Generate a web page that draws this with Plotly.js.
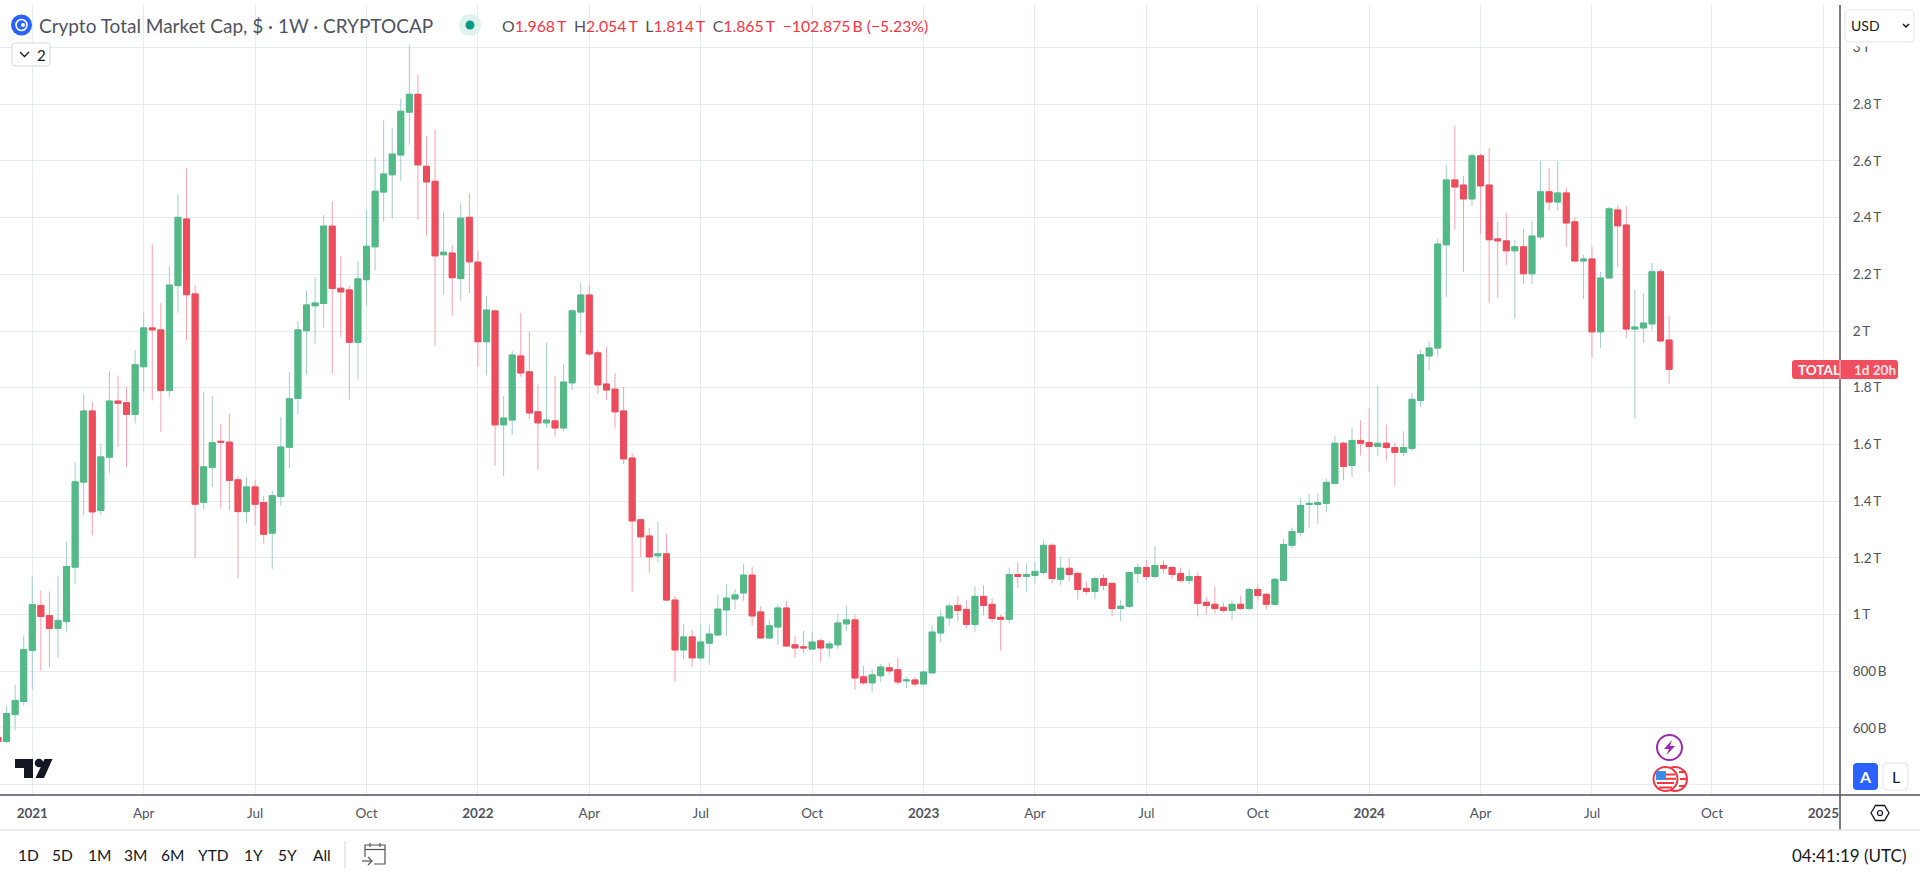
<!DOCTYPE html>
<html>
<head>
<meta charset="utf-8">
<title>Crypto Total Market Cap</title>
<script src="https://cdn.plot.ly/plotly-3.0.1.min.js"></script>
<style>
html, body { margin: 0; padding: 0; background: #fff; overflow: hidden; }
#chart { width: 1920px; height: 878px; }
</style>
</head>
<body>
<div id="chart"></div>
<script>
// weekly bars, values in trillions of USD
var weeks = [
  '2020-12-07','2020-12-14','2020-12-21','2020-12-28',
  '2021-01-04','2021-01-11','2021-01-18','2021-01-25','2021-02-01','2021-02-08','2021-02-15','2021-02-22','2021-03-01','2021-03-08','2021-03-15','2021-03-22','2021-03-29',
  '2021-04-05','2021-04-12','2021-04-19','2021-04-26','2021-05-03','2021-05-10','2021-05-17','2021-05-24','2021-05-31','2021-06-07','2021-06-14','2021-06-21','2021-06-28',
  '2021-07-05','2021-07-12','2021-07-19','2021-07-26','2021-08-02','2021-08-09','2021-08-16','2021-08-23','2021-08-30','2021-09-06','2021-09-13','2021-09-20','2021-09-27',
  '2021-10-04','2021-10-11','2021-10-18','2021-10-25','2021-11-01','2021-11-08','2021-11-15','2021-11-22','2021-11-29','2021-12-06','2021-12-13','2021-12-20','2021-12-27',
  '2022-01-03','2022-01-10','2022-01-17','2022-01-24','2022-01-31','2022-02-07','2022-02-14','2022-02-21','2022-02-28','2022-03-07','2022-03-14','2022-03-21','2022-03-28',
  '2022-04-04','2022-04-11','2022-04-18','2022-04-25','2022-05-02','2022-05-09','2022-05-16','2022-05-23','2022-05-30','2022-06-06','2022-06-13','2022-06-20','2022-06-27',
  '2022-07-04','2022-07-11','2022-07-18','2022-07-25','2022-08-01','2022-08-08','2022-08-15','2022-08-22','2022-08-29','2022-09-05','2022-09-12','2022-09-19','2022-09-26',
  '2022-10-03','2022-10-10','2022-10-17','2022-10-24','2022-10-31','2022-11-07','2022-11-14','2022-11-21','2022-11-28','2022-12-05','2022-12-12','2022-12-19','2022-12-26',
  '2023-01-02','2023-01-09','2023-01-16','2023-01-23','2023-01-30','2023-02-06','2023-02-13','2023-02-20','2023-02-27','2023-03-06','2023-03-13','2023-03-20','2023-03-27',
  '2023-04-03','2023-04-10','2023-04-17','2023-04-24','2023-05-01','2023-05-08','2023-05-15','2023-05-22','2023-05-29','2023-06-05','2023-06-12','2023-06-19','2023-06-26',
  '2023-07-03','2023-07-10','2023-07-17','2023-07-24','2023-07-31','2023-08-07','2023-08-14','2023-08-21','2023-08-28','2023-09-04','2023-09-11','2023-09-18','2023-09-25',
  '2023-10-02','2023-10-09','2023-10-16','2023-10-23','2023-10-30','2023-11-06','2023-11-13','2023-11-20','2023-11-27','2023-12-04','2023-12-11','2023-12-18','2023-12-25',
  '2024-01-01','2024-01-08','2024-01-15','2024-01-22','2024-01-29','2024-02-05','2024-02-12','2024-02-19','2024-02-26','2024-03-04','2024-03-11','2024-03-18','2024-03-25',
  '2024-04-01','2024-04-08','2024-04-15','2024-04-22','2024-04-29','2024-05-06','2024-05-13','2024-05-20','2024-05-27','2024-06-03','2024-06-10','2024-06-17','2024-06-24',
  '2024-07-01','2024-07-08','2024-07-15','2024-07-22','2024-07-29','2024-08-05','2024-08-12','2024-08-19','2024-08-26','2024-09-02'
];

var opens = [
  .566,.552,.647,.693,
  .873,1.032,.996,.951,.975,1.167,1.467,1.718,1.367,1.555,1.753,1.747,1.706,
  1.874,2.011,2.004,1.790,2.160,2.395,2.131,1.396,1.519,1.611,1.608,1.475,1.363,
  1.450,1.395,1.287,1.416,1.590,1.762,2.001,2.089,2.097,2.370,2.151,2.145,1.960,
  2.181,2.297,2.490,2.551,2.621,2.772,2.835,2.581,2.528,2.269,2.275,2.185,2.401,
  2.243,1.962,2.071,1.669,1.686,1.912,1.856,1.715,1.676,1.683,1.658,1.817,2.067,
  2.127,1.923,1.813,1.795,1.718,1.552,1.334,1.277,1.207,1.214,1.051,.875,.921,
  .847,.899,.928,1.016,1.055,1.076,1.139,1.009,.917,.956,1.023,.893,.886,
  .878,.907,.882,.893,.967,.981,.780,.759,.784,.812,.805,.766,.769,
  .755,.794,.935,.988,1.032,1.018,.965,1.064,1.036,.990,.983,1.141,1.134,
  1.138,1.148,1.244,1.124,1.163,1.145,1.092,1.081,1.127,1.110,1.021,1.029,1.145,
  1.166,1.134,1.173,1.166,1.145,1.120,1.134,1.043,1.036,1.025,1.014,1.036,1.021,
  1.088,1.071,1.036,1.120,1.244,1.290,1.388,1.388,1.392,1.462,1.604,1.526,1.614,
  1.607,1.593,1.604,1.589,1.572,1.586,1.755,1.912,1.940,2.304,2.533,2.515,2.466,
  2.618,2.515,2.325,2.318,2.283,2.297,2.202,2.332,2.491,2.455,2.487,2.385,2.247,
  2.254,1.997,2.187,2.427,2.374,2.007,2.011,2.025,2.209,1.968
];

var highs = [
  .585,.679,.753,.926,
  1.134,1.085,1.081,1.137,1.257,1.538,1.777,1.750,1.601,1.859,1.843,1.803,1.933,
  2.064,2.306,2.098,2.229,2.482,2.576,2.162,1.787,1.771,1.673,1.708,1.488,1.485,
  1.475,1.419,1.436,1.697,1.855,2.035,2.141,2.190,2.409,2.457,2.264,2.159,2.247,
  2.426,2.613,2.743,2.718,2.820,3.008,2.904,2.687,2.712,2.419,2.303,2.451,2.486,
  2.285,2.124,2.075,1.771,1.930,2.064,1.997,1.810,1.958,1.842,1.884,2.078,2.169,
  2.162,1.933,1.944,1.852,1.803,1.570,1.337,1.305,1.327,1.284,1.065,.967,.945,
  .963,.963,1.069,1.108,1.090,1.178,1.168,1.030,.981,1.034,1.048,.924,.942,
  .938,.914,.907,1.002,1.030,.998,.819,.808,.826,.829,.847,.780,.780,
  .801,.963,1.016,1.041,1.064,1.050,1.099,1.103,1.057,1.000,1.166,1.184,1.180,
  1.187,1.261,1.251,1.205,1.198,1.152,1.117,1.134,1.141,1.112,1.050,1.150,1.180,
  1.191,1.240,1.191,1.170,1.166,1.159,1.148,1.060,1.099,1.043,1.050,1.067,1.095,
  1.106,1.075,1.131,1.268,1.307,1.410,1.427,1.427,1.480,1.632,1.611,1.657,1.685,
  1.727,1.808,1.670,1.607,1.646,1.780,1.933,1.965,2.325,2.586,2.724,2.547,2.628,
  2.625,2.646,2.385,2.417,2.322,2.360,2.389,2.600,2.575,2.600,2.505,2.402,2.269,
  2.297,2.209,2.438,2.445,2.441,2.145,2.131,2.240,2.219,2.054
];

var lows = [
  .535,.545,.591,.679,
  .735,.802,.813,.848,.940,1.107,1.350,1.279,1.350,1.498,1.591,1.519,1.674,
  1.784,1.755,1.645,1.766,2.064,1.966,1.199,1.371,1.450,1.375,1.367,1.128,1.322,
  1.314,1.251,1.160,1.385,1.516,1.706,1.847,1.956,2.013,1.850,1.979,1.759,1.829,
  2.089,2.213,2.385,2.396,2.530,2.657,2.392,2.336,1.948,2.128,2.054,2.107,2.134,
  1.874,1.845,1.524,1.489,1.633,1.838,1.690,1.510,1.658,1.627,1.647,1.792,1.990,
  1.912,1.778,1.757,1.658,1.531,1.080,1.203,1.147,1.185,1.048,.762,.843,.815,
  .836,.822,.926,.924,1.019,1.048,.960,.916,.916,.893,.886,.847,.864,
  .876,.833,.850,.878,.942,.734,.752,.727,.762,.787,.752,.741,.745,
  .754,.793,.903,.960,.976,.951,.937,.997,.972,.873,.969,1.095,1.081,
  1.110,1.141,1.110,1.103,1.117,1.053,1.071,1.053,1.085,.993,.976,1.021,1.110,
  1.120,1.127,1.145,1.124,1.113,1.106,.993,1.000,1.004,1.007,.979,1.018,1.014,
  1.050,1.018,1.035,1.119,1.233,1.275,1.307,1.321,1.360,1.459,1.473,1.484,1.561,
  1.501,1.558,1.544,1.455,1.558,1.575,1.732,1.863,1.909,2.120,2.357,2.209,2.441,
  2.343,2.099,2.117,2.233,2.043,2.166,2.166,2.322,2.424,2.424,2.297,2.244,2.113,
  1.905,1.940,2.184,2.226,1.975,1.690,1.958,2.004,1.962,1.814
];

var closes = [
  .552,.651,.697,.876,
  1.035,.993,.951,.979,1.169,1.468,1.718,1.362,1.556,1.753,1.745,1.706,1.881,
  2.011,2.004,1.790,2.162,2.401,2.128,1.389,1.521,1.606,1.608,1.473,1.363,1.450,
  1.389,1.283,1.419,1.591,1.761,2.004,2.092,2.099,2.370,2.150,2.138,1.960,2.184,
  2.299,2.493,2.554,2.624,2.775,2.835,2.586,2.526,2.265,2.278,2.188,2.398,2.244,
  1.962,2.074,1.669,1.693,1.915,1.852,1.711,1.676,1.686,1.658,1.820,2.071,2.127,
  1.919,1.810,1.792,1.715,1.549,1.330,1.274,1.203,1.214,1.051,.875,.921,.847,
  .903,.931,1.019,1.058,1.069,1.139,.995,.917,.960,1.023,.889,.882,.882,
  .903,.882,.896,.970,.981,.776,.759,.787,.815,.801,.762,.769,.755,
  .797,.938,.991,1.030,1.014,.965,1.064,1.032,.986,.983,1.141,1.134,1.141,
  1.152,1.244,1.127,1.163,1.141,1.088,1.081,1.127,1.103,1.021,1.029,1.148,1.166,
  1.134,1.173,1.163,1.141,1.120,1.134,1.039,1.032,1.021,1.014,1.036,1.021,1.088,
  1.067,1.036,1.124,1.247,1.293,1.385,1.392,1.395,1.466,1.604,1.522,1.614,1.604,
  1.593,1.604,1.589,1.572,1.589,1.759,1.916,1.940,2.307,2.533,2.508,2.466,2.618,
  2.512,2.322,2.318,2.283,2.297,2.202,2.335,2.491,2.455,2.487,2.381,2.247,2.254,
  1.997,2.187,2.431,2.371,2.007,2.014,2.028,2.209,1.965,1.865
];

var xTicks = ['2021-01-04','2021-04-05','2021-07-05','2021-10-04','2022-01-03','2022-04-04','2022-07-04','2022-10-03','2023-01-02','2023-04-03','2023-07-03','2023-10-02','2024-01-01','2024-04-01','2024-07-01','2024-10-07','2025-01-06'];
var xLabels = ['<b>2021</b>','Apr','Jul','Oct','<b>2022</b>','Apr','Jul','Oct','<b>2023</b>','Apr','Jul','Oct','<b>2024</b>','Apr','Jul','Oct','<b>2025</b>'];
var yTicks = [3, 2.8, 2.6, 2.4, 2.2, 2, 1.8, 1.6, 1.4, 1.2, 1, .8, .6, .4];
var yLabels = ['3\u2009T','2.8\u2009T','2.6\u2009T','2.4\u2009T','2.2\u2009T','2\u2009T','1.8\u2009T','1.6\u2009T','1.4\u2009T','1.2\u2009T','1\u2009T','800\u2009B','600\u2009B',''];
var rangeButtons = ['1D','5D','1M','3M','6M','YTD','1Y','5Y','All'];
var rangeButtonX = [28, 63, 99, 135, 172, 213, 253, 287, 322];

var FONT = 'Lato, "Noto Sans", sans-serif';
var TEXT = '#50535E';
var UP = '#53B987', DOWN = '#EB4D5C';
var UP_WICK = '#A3CCCC', DOWN_WICK = '#F7A1AC';
var GRID = '#E2ECF2';
var DAY = 86400000;

// bodies go on their own trace so that they can be coloured apart from the wicks
var bodyHigh = [], bodyLow = [];
for (var i = 0; i < weeks.length; i++) {
  bodyHigh.push(Math.max(opens[i], closes[i]));
  bodyLow.push(Math.min(opens[i], closes[i]));
}

var wicks = {
  type: 'candlestick',
  x: weeks, open: opens, high: highs, low: lows, close: closes,
  width: DAY,
  increasing: {line: {color: UP_WICK, width: 1}, fillcolor: UP_WICK},
  decreasing: {line: {color: DOWN_WICK, width: 1}, fillcolor: DOWN_WICK},
  hoverinfo: 'skip',
  showlegend: false
};

var bodies = {
  type: 'candlestick',
  x: weeks, open: opens, high: bodyHigh, low: bodyLow, close: closes,
  width: 4.9 * DAY,
  increasing: {line: {color: UP, width: 1}, fillcolor: UP},
  decreasing: {line: {color: DOWN, width: 1}, fillcolor: DOWN},
  hoverinfo: 'skip',
  showlegend: false
};

// screen pixels to paper coords, the plot area is 1840x790 at (0,5)
function fx(px) { return px / 1840; }
function fy(py) { return 1 - (py - 5) / 790; }

var shapes = [];
var notes = [];

function rect(x0, y0, x1, y1, fill, line, lineWidth) {
  shapes.push({type: 'rect', xref: 'paper', yref: 'paper', x0: fx(x0), y0: fy(y0), x1: fx(x1), y1: fy(y1),
    fillcolor: fill || 'rgba(0,0,0,0)', line: {color: line || 'rgba(0,0,0,0)', width: line ? (lineWidth || 1) : 0}, layer: 'above'});
}
function circle(cx, cy, r, fill, line, lineWidth) {
  shapes.push({type: 'circle', xref: 'paper', yref: 'paper', x0: fx(cx - r), y0: fy(cy - r), x1: fx(cx + r), y1: fy(cy + r),
    fillcolor: fill || 'rgba(0,0,0,0)', line: {color: line || 'rgba(0,0,0,0)', width: line ? (lineWidth || 1) : 0}, layer: 'above'});
}
function path(points, closed, fill, line, lineWidth) {
  var d = '';
  for (var i = 0; i < points.length; i++) {
    d += (i ? 'L' : 'M') + fx(points[i][0]) + ',' + fy(points[i][1]);
  }
  if (closed) d += 'Z';
  shapes.push({type: 'path', xref: 'paper', yref: 'paper', path: d,
    fillcolor: fill || 'rgba(0,0,0,0)', line: {color: line || 'rgba(0,0,0,0)', width: line ? (lineWidth || 1) : 0}, layer: 'above'});
}
function roundRect(x0, y0, x1, y1, r, fill, line) {
  var X0 = fx(x0), X1 = fx(x1), Y0 = fy(y0), Y1 = fy(y1), A = fx(x0 + r), B = fx(x1 - r), C = fy(y0 + r), D = fy(y1 - r);
  var d = 'M' + A + ',' + Y0 + 'L' + B + ',' + Y0 + 'Q' + X1 + ',' + Y0 + ' ' + X1 + ',' + C +
    'L' + X1 + ',' + D + 'Q' + X1 + ',' + Y1 + ' ' + B + ',' + Y1 + 'L' + A + ',' + Y1 +
    'Q' + X0 + ',' + Y1 + ' ' + X0 + ',' + D + 'L' + X0 + ',' + C + 'Q' + X0 + ',' + Y0 + ' ' + A + ',' + Y0 + 'Z';
  shapes.push({type: 'path', xref: 'paper', yref: 'paper', path: d,
    fillcolor: fill || '#fff', line: {color: line || 'rgba(0,0,0,0)', width: line ? 1 : 0}, layer: 'above'});
}
function note(text, px, py, size, color, anchor) {
  notes.push({text: text, xref: 'paper', yref: 'paper', x: fx(px), y: fy(py), showarrow: false,
    xanchor: anchor || 'left', yanchor: 'middle', borderpad: 0,
    font: {family: FONT, size: size, color: color}});
}

// axis frame
rect(0, 795, 1920, 795, null, '#50535E', 1);
rect(1840, 5, 1840, 830, null, '#50535E', 1);
rect(0, 830, 1920, 830, null, '#E0E3EB', 1);

// header
circle(21.5, 25, 10.5, '#2962FF');
circle(21.5, 25, 5.5, null, '#fff', 1.6);
circle(23, 25, 2, '#fff');
note('Crypto Total Market Cap, $ \u00b7 1W \u00b7 CRYPTOCAP', 38, 25, 19, TEXT);
circle(470, 25, 11, '#DFF2EE');
circle(470, 25, 4.5, '#089981');
var red = function (s) { return '<span style="color:#F23645">' + s + '</span>'; };
note('O' + red('1.968\u2009T') + '  H' + red('2.054\u2009T') + '  L' + red('1.814\u2009T') + '  C' + red('1.865\u2009T') + '  ' + red('\u2212102.875\u2009B (\u22125.23%)'), 501, 25, 15.8, TEXT);

// collapsed indicators button
roundRect(12, 43, 50, 66, 3, '#fff', '#D6D8E0');
path([[20, 52], [24.5, 56.5], [29, 52]], false, null, '#131722', 1.3);
note('2', 36, 54.5, 15, '#131722');

// currency button, its margin hides the top half of the "3 T" label
rect(1841, 5, 1920, 46.5, '#fff');
roundRect(1845, 10, 1914, 42, 5, '#fff', '#E0E3EB');
note('USD', 1850, 25, 14, '#131722');
path([[1903, 24], [1906, 27], [1909, 24]], false, null, '#131722', 1.5);

// last price label
roundRect(1792, 360, 1898, 379, 3, '#EF4F5E');
rect(1840, 360, 1840, 379, null, '#F7A1AC', 1);
note('<b>TOTAL</b>', 1797, 369.5, 13.5, '#fff');
note('<b>1d 20h</b>', 1853, 369.5, 13.5, '#FCE4E7');

// auto / log buttons
roundRect(1853, 763, 1878, 790, 4, '#2962FF');
note('<b>A</b>', 1865.5, 776.5, 16, '#fff', 'center');
roundRect(1883, 763, 1908, 790, 4, '#fff', '#E0E3EB');
note('L', 1895.5, 776.5, 16, '#131722', 'center');

// settings hexagon
path([[1871, 813], [1875.5, 805.5], [1884.5, 805.5], [1889, 813], [1884.5, 820.5], [1875.5, 820.5]], true, null, '#131722', 1.3);
circle(1880, 813, 2.5, null, '#131722', 1.2);

// logo
path([[15, 759], [33, 759], [33, 778], [24, 778], [24, 768], [15, 768]], true, '#131722');
circle(39, 763, 4.3, '#131722');
path([[44.5, 759], [52.5, 759], [44, 778], [35.5, 778]], true, '#131722');

// events on the time scale
circle(1669.5, 747.5, 12.5, '#fff', '#9C27B0', 2);
path([[1672, 740], [1664, 749], [1669, 749], [1666.5, 755], [1675, 746], [1670, 746]], true, '#9C27B0');
circle(1675, 779, 12, '#fff', '#F23645', 2);
path([[1679, 772], [1686, 772]], false, null, '#F23645', 2);
path([[1680, 779], [1687, 779]], false, null, '#F23645', 2);
path([[1679, 786], [1686, 786]], false, null, '#F23645', 2);
circle(1665.5, 779, 12, '#fff', '#F23645', 2);
path([[1657, 783], [1674, 783]], false, null, '#F23645', 2);
path([[1659, 787.5], [1672, 787.5]], false, null, '#F23645', 2);
path([[1666, 774.5], [1675, 774.5]], false, null, '#F23645', 2);
path([[1666, 778.8], [1676, 778.8]], false, null, '#F23645', 2);
rect(1656, 771, 1666, 780, '#3D8CE8');

// range bar
for (var b = 0; b < rangeButtons.length; b++) {
  note(rangeButtons[b], rangeButtonX[b], 855, 15.5, '#131722', 'center');
}
rect(345, 841, 345, 868, null, '#E0E3EB', 1);
// calendar icon
path([[365, 857], [365, 845], [385, 845], [385, 864], [374, 864]], false, null, '#50535E', 1.2);
path([[365, 849.5], [385, 849.5]], false, null, '#50535E', 1.2);
path([[370, 843], [370, 847]], false, null, '#50535E', 1.2);
path([[380, 843], [380, 847]], false, null, '#50535E', 1.2);
path([[362, 861], [372, 861]], false, null, '#50535E', 1.2);
path([[368, 857], [372, 861], [368, 865]], false, null, '#50535E', 1.2);
note('04:41:19 (UTC)', 1907, 855, 17, '#131722', 'right');

var layout = {
  width: 1920,
  height: 878,
  margin: {l: 0, r: 80, t: 5, b: 83, pad: 0},
  paper_bgcolor: '#fff',
  plot_bgcolor: '#fff',
  showlegend: false,
  hovermode: false,
  boxgap: 0,
  boxmode: 'overlay',
  font: {family: FONT, size: 13, color: TEXT},
  xaxis: {
    type: 'date',
    range: ['2020-12-08 15:00', '2025-01-19 14:00'],
    tickmode: 'array',
    tickvals: xTicks,
    ticktext: xLabels,
    tickangle: 0,
    ticks: 'outside',
    ticklen: 6,
    tickcolor: 'rgba(0,0,0,0)',
    tickfont: {family: FONT, size: 13.5, color: TEXT},
    showgrid: true,
    gridcolor: GRID,
    gridwidth: 1,
    zeroline: false,
    showline: false,
    rangeslider: {visible: false},
    fixedrange: true
  },
  yaxis: {
    side: 'right',
    range: [0.3633, 3.15],
    tickmode: 'array',
    tickvals: yTicks,
    ticktext: yLabels,
    ticks: 'outside',
    ticklen: 9,
    tickcolor: 'rgba(0,0,0,0)',
    tickfont: {family: FONT, size: 13.5, color: TEXT},
    showgrid: true,
    gridcolor: GRID,
    gridwidth: 1,
    zeroline: false,
    showline: false,
    fixedrange: true
  },
  shapes: shapes,
  annotations: notes
};

Plotly.newPlot('chart', [wicks, bodies], layout, {displayModeBar: false, staticPlot: true});
</script>
</body>
</html>
